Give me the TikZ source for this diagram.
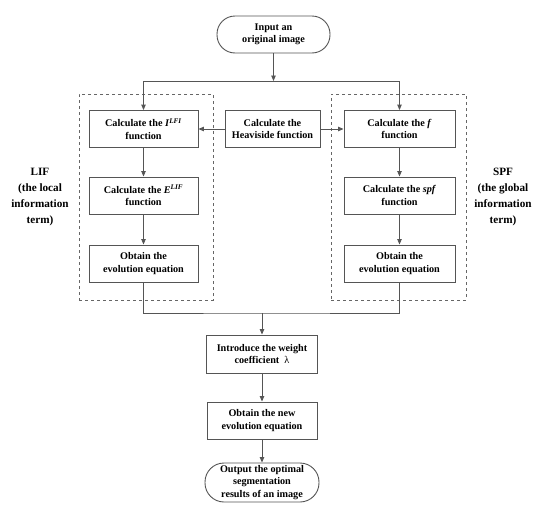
\documentclass[tikz,border=0pt]{standalone}
\usepackage{fontspec}
\setmainfont{Liberation Serif}
\usetikzlibrary{arrows.meta}
\definecolor{linegray}{HTML}{555555}
\definecolor{dashgray}{HTML}{666666}
\begin{document}
\begin{tikzpicture}[x=1pt,y=-1pt,
  line/.style={draw=linegray, line width=0.9pt},
  arr/.style={line, -{Triangle[length=5.5pt,width=4.5pt]}},
  proc/.style={draw=linegray, line width=0.9pt, minimum height=37pt, align=center,
    font=\bfseries\fontsize{10.2}{12.5}\selectfont, inner sep=0pt},
  term/.style={proc, rounded corners=18pt},
  grp/.style={draw=dashgray, dashed, line width=0.8pt, inner sep=0pt},
  lab/.style={align=center, font=\bfseries\fontsize{11.2}{16}\selectfont}]
\useasboundingbox (0,0) rectangle (550,517);
% groups
\node[grp, minimum width=134pt, minimum height=206pt] (gl) at (146,197) {};
\node[grp, minimum width=135pt, minimum height=206pt] (gr) at (398.5,197) {};
% nodes
\node[term, minimum width=113pt] (in) at (273.5,34.5) {Input an\\original image};
\node[proc, minimum width=109pt] (l1) at (143.5,129) {Calculate the \textit{I}\textsuperscript{\textit{LFI}}\\function};
\node[proc, minimum width=109pt] (l2) at (143.5,195.5) {Calculate the \textit{E}\textsuperscript{\textit{LIF}}\\function};
\node[proc, minimum width=109pt] (l3) at (143.5,263.5) {Obtain the\\evolution equation};
\node[proc, minimum width=95pt] (h) at (272.5,129) {Calculate the\\Heaviside function};
\node[proc, minimum width=111pt] (r1) at (399.5,129) {Calculate the \textit{f}\\function};
\node[proc, minimum width=111pt] (r2) at (399.5,195.5) {Calculate the \textit{spf}\\function};
\node[proc, minimum width=111pt] (r3) at (399.5,263.5) {Obtain the\\evolution equation};
\node[proc, minimum width=111pt, minimum height=38pt] (w) at (262,354) {Introduce the weight\\coefficient\ \ {\mdseries λ}};
\node[proc, minimum width=110pt] (ne) at (262,420.5) {Obtain the new\\evolution equation};
\node[term, minimum width=114pt, minimum height=39pt, rounded corners=19pt] (out) at (262,482.5) {Output the optimal\\segmentation\\results of an image};
% labels
\node[lab] (ll) at (40,197) {LIF\\(the local\\information\\term)};
\node[lab] (rl) at (503,197) {SPF\\(the global\\information\\term)};
% connectors
\coordinate (sp) at (273.5,81);
\draw[arr] (in) -- (sp);
\draw[arr] (sp) -| (l1.north);
\draw[arr] (sp) -| (r1.north);
\draw[arr] (h.west) -- (l1.east);
\draw[arr] (h.east) -- (r1.west);
\draw[arr] (l1) -- (l2);
\draw[arr] (l2) -- (l3);
\draw[arr] (r1) -- (r2);
\draw[arr] (r2) -- (r3);
\coordinate (mj) at (262,313);
\draw[line] (l3.south) |- (mj) -| (r3.south);
\draw[arr] (mj) -- (w.north);
\draw[arr] (w) -- (ne);
\draw[arr] (ne) -- (out);
\end{tikzpicture}
\end{document}
